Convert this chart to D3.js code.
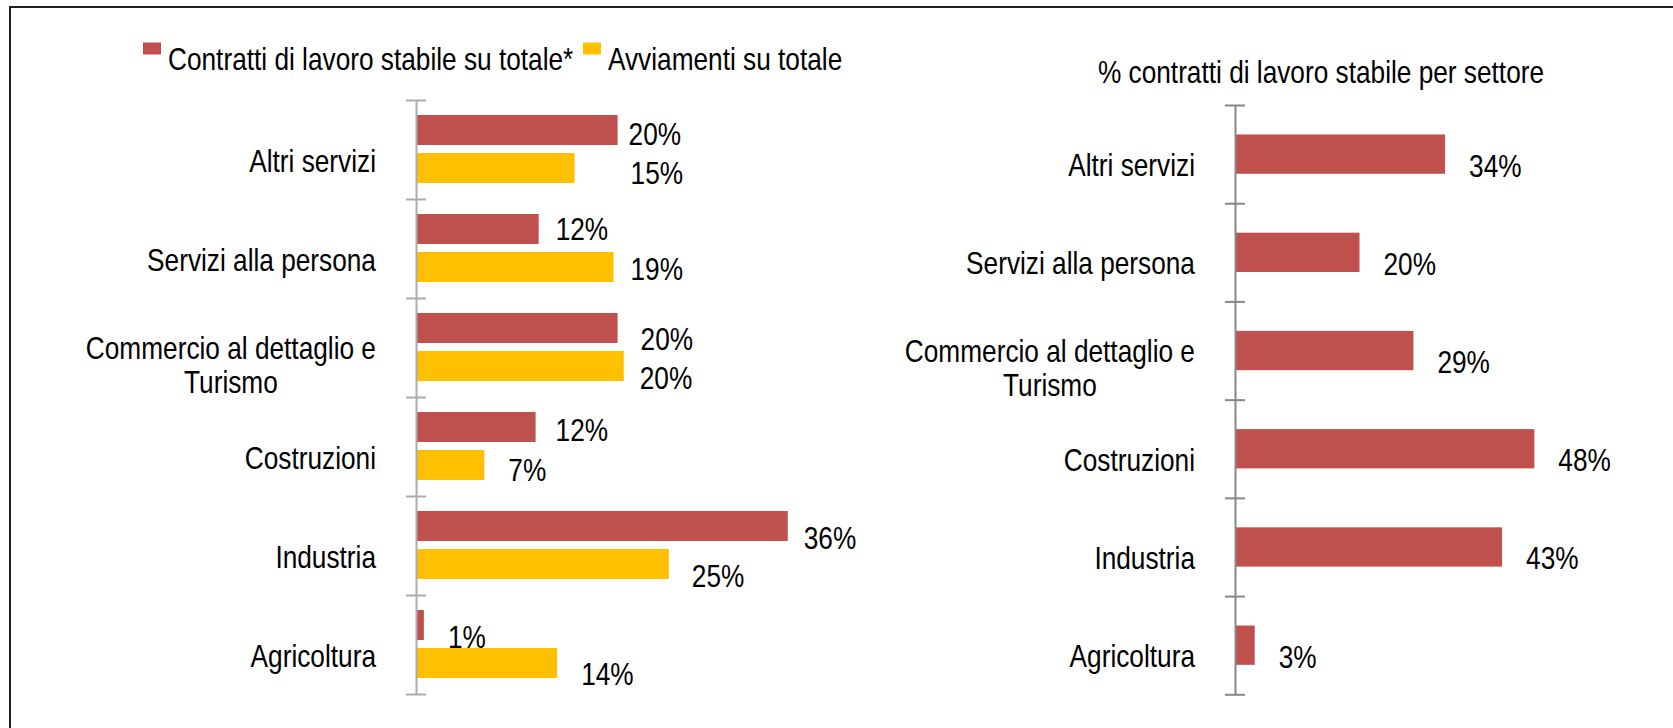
<!DOCTYPE html>
<html><head><meta charset="utf-8">
<script src="https://cdn.jsdelivr.net/npm/d3@7"></script>
<style>
html,body{margin:0;padding:0;background:#fff;overflow:hidden;}
svg text{font-family:"Liberation Sans",Arial,sans-serif;font-size:32px;fill:#000;}
</style></head><body>
<svg id="c" width="1673" height="728"></svg>
<script>
// ---------- data ----------
const categories = ["Altri servizi","Servizi alla persona","Commercio al dettaglio e Turismo","Costruzioni","Industria","Agricoltura"];
const seriesNames = ["Contratti di lavoro stabile su totale*","Avviamenti su totale"];
const stableShareOfTotal  = [0.196,0.119,0.196,0.116,0.362,0.007];
const hiringsShareOfTotal = [0.154,0.192,0.202,0.066,0.246,0.137];
const rightTitle = "% contratti di lavoro stabile per settore";
const stableShareBySector = [0.338,0.200,0.287,0.482,0.430,0.031];

// ---------- layout / style (not data) ----------
const colors = ["#C0504D","#FFC000"];
const NARROW = 0.82; // emulate Arial Narrow by condensing Liberation Sans
// manual data-label nudges in the original (dx from bar end, dy baseline from bar centre)
const leftNudges = [
  [[11,15],[17,11],[23,22],[20,14],[16,23],[24,23]],
  [[56,16],[17,13],[16,23.5],[24,16],[23,23],[24,22.5]]
];
const rightNudge = [24,22.5];
const fmt = d3.format(".0%");

const svg = d3.select("#c");

function narrowText(g, x, y, str, anchor){
  const t = g.append("text")
    .attr("transform", `translate(${x},${y}) scale(${NARROW},1)`)
    .attr("text-anchor", anchor || "start")
    .text(str);
  return t;
}
function textW(g, str){
  const p = g.append("text").text(str);
  const w = p.node().getComputedTextLength()*NARROW;
  p.remove();
  return w;
}

// frame (top + left edges)
svg.append("path").attr("d","M10,728V7H1673").attr("fill","none").attr("stroke","#1e1e1e").attr("stroke-width",2);

function categoryLabels(g, yScale, axisX){
  categories.forEach(cat=>{
    const c = yScale(cat) + yScale.bandwidth()/2;
    const words = cat.split(" "); let lines=[]; let cur="";
    words.forEach(w=>{
      const test = cur ? cur+" "+w : w;
      if (textW(g,test) > 300 && cur){ lines.push(cur); cur=w; } else cur=test;
    });
    lines.push(cur);
    const n = lines.length, lh = 34;
    const base0 = c + 22 - (n-1)*11;
    const maxW = d3.max(lines, l=>textW(g,l));
    lines.forEach((l,i)=>{
      narrowText(g, axisX - 40 - maxW/2, base0 + i*lh, l, "middle");
    });
  });
}

function drawAxis(g, y0, y1, x, color){
  const s = d3.scaleLinear().domain([0,categories.length]).range([y0,y1]);
  const ax = g.append("g").attr("transform",`translate(${x},0)`)
    .call(d3.axisLeft(s).tickValues(d3.range(categories.length+1)).tickFormat("").tickSizeOuter(0).tickSizeInner(10));
  ax.select(".domain").attr("stroke",color).attr("stroke-width",2);
  ax.selectAll(".tick line").attr("stroke",color).attr("stroke-width",2).attr("x1",10).attr("x2",-10);
}

// ---------- left chart ----------
{
  const g = svg.append("g");
  const y = d3.scaleBand().domain(categories).range([100,694]);
  const yInner = d3.scaleBand().domain([0,1]).range([15,83]).paddingInner(0.2105);
  const x = d3.scaleLinear().domain([0,0.40]).range([416.7, 416.7+410]);
  const series = [stableShareOfTotal, hiringsShareOfTotal];
  series.forEach((vals,si)=>{
    g.selectAll(null).data(vals).enter().append("rect")
      .attr("x", x(0))
      .attr("y", (d,i)=> y(categories[i]) + yInner(si))
      .attr("width", d=> x(d)-x(0))
      .attr("height", yInner.bandwidth())
      .attr("fill", colors[si]);
    vals.forEach((d,i)=>{
      narrowText(g, x(d) + leftNudges[si][i][0],
        y(categories[i]) + yInner(si) + yInner.bandwidth()/2 + leftNudges[si][i][1], fmt(d));
    });
  });
  drawAxis(g, 100, 694, 416, "#ababab");
  categoryLabels(g, y, 416);

  // legend
  let lx = 143;
  seriesNames.forEach((name,i)=>{
    g.append("rect").attr("x",lx).attr("y",42.5).attr("width",18).attr("height",12).attr("fill",colors[i]);
    narrowText(g, lx+25, 70, name);
    lx = lx + 25 + textW(g,name) + 9.5;
  });
}

// ---------- right chart ----------
{
  const g = svg.append("g");
  const y = d3.scaleBand().domain(categories).range([105,694.3]).paddingInner(0.6).paddingOuter(0.3);
  const x = d3.scaleLinear().domain([0,0.5]).range([1235.5, 1235.5+310]);
  g.selectAll(null).data(stableShareBySector).enter().append("rect")
    .attr("x", x(0))
    .attr("y", (d,i)=> y(categories[i]))
    .attr("width", d=> x(d)-x(0))
    .attr("height", y.bandwidth())
    .attr("fill", colors[0]);
  stableShareBySector.forEach((d,i)=>{
    narrowText(g, x(d) + rightNudge[0], y(categories[i]) + y.bandwidth()/2 + rightNudge[1], fmt(d));
  });
  drawAxis(g, 105, 694.3, 1235, "#878787");
  categoryLabels(g, d3.scaleBand().domain(categories).range([105,694.3]), 1235);
  narrowText(g, 1321, 83, rightTitle, "middle");
}
</script>
</body></html>
